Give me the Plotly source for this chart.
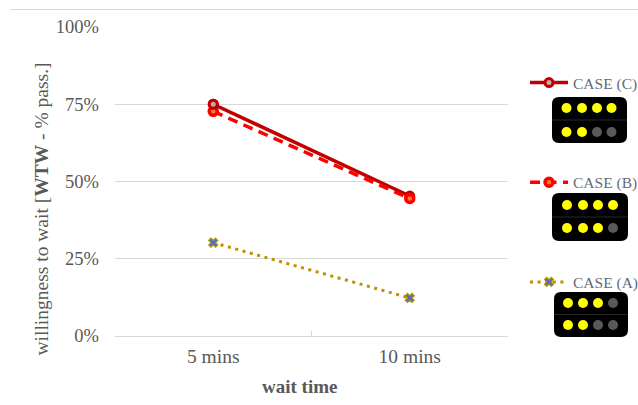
import plotly.graph_objects as go

W, H = 638, 405
L, R, T, B = 115, 508, 27, 336  # plot area, in window pixels

categories = ["5 mins", "10 mins"]
case_c = [75, 45.3]
case_b = [72.7, 44.5]
case_a = [30.2, 12.3]
y_ticks = [0, 25, 50, 75, 100]
y_labels = ["0%", "25%", "50%", "75%", "100%"]
# 1 = lit, 0 = unlit : top row, bottom row
lights_c = [[1, 1, 1, 1], [1, 1, 0, 0]]
lights_b = [[1, 1, 1, 1], [1, 1, 1, 0]]
lights_a = [[1, 1, 1, 0], [1, 1, 0, 0]]

GREY = "#595959"
FONT = "Liberation Serif"


def px(x):
    return (x - L) / (R - L)


def py(y):
    return (B - y) / (B - T)


marker_c = dict(symbol="circle", size=8, color="#C8A8A8", line=dict(color="#C00000", width=3))

fig = go.Figure()
fig.add_trace(go.Scatter(
    x=categories, y=case_c, name="CASE (C)", legendgroup="c", mode="lines+markers",
    line=dict(color="#C00000", width=3.5), marker=marker_c))
fig.add_trace(go.Scatter(
    x=categories, y=case_b, name="CASE (B)", legendgroup="b", mode="lines+markers",
    line=dict(color="#FF0000", width=3.5, dash="10px,6.5px"),
    marker=dict(symbol="circle", size=8, color="#ED7D31", line=dict(color="#FF0000", width=3.5))))
# The 5-min marker of case C lies over case B, the 10-min one under it.
fig.add_trace(go.Scatter(
    x=categories[:1], y=case_c[:1], legendgroup="c", showlegend=False, mode="markers", marker=marker_c))
fig.add_trace(go.Scatter(
    x=categories, y=case_a, name="CASE (A)", legendgroup="a", mode="lines+markers",
    line=dict(color="#BF9000", width=3, dash="3px,4.6px"),
    marker=dict(symbol="x", size=8, color="#4472C4", line=dict(color="#BF9000", width=1.2))))

shapes = [dict(type="line", xref="paper", yref="paper", x0=px(10), x1=px(640), y0=py(9.5), y1=py(9.5),
               line=dict(color="#D9D9D9", width=1))]


def panel(lights, x0, x1, y0, y1, xs, ys):
    r = 7
    a, b, c, d = px(x0), px(x1), py(y0), py(y1)
    rx, ry = r / (R - L), r / (B - T)
    path = (f"M {a+rx} {c} L {b-rx} {c} Q {b} {c} {b} {c-ry} L {b} {d+ry} Q {b} {d} {b-rx} {d} "
            f"L {a+rx} {d} Q {a} {d} {a} {d+ry} L {a} {c-ry} Q {a} {c} {a+rx} {c} Z")
    shapes.append(dict(type="path", path=path, xref="paper", yref="paper",
                       fillcolor="#000000", line=dict(width=0)))
    mid = (y0 + y1) / 2
    shapes.append(dict(type="line", xref="paper", yref="paper", x0=a, x1=b, y0=py(mid), y1=py(mid),
                       line=dict(color="#262626", width=1)))
    for row, yc in zip(lights, ys):
        for state, xc in zip(row, xs):
            shapes.append(dict(type="circle", xref="paper", yref="paper",
                               x0=px(xc - 5), x1=px(xc + 5), y0=py(yc - 5), y1=py(yc + 5),
                               fillcolor="#FFFF00" if state else "#595959", line=dict(width=0)))


panel(lights_c, 552, 627, 97, 143, [566.5, 582, 597, 611.5], [108, 132])
panel(lights_b, 552, 628, 193, 241, [567, 583, 598, 613], [205, 228])
panel(lights_a, 554, 628, 292, 337, [568, 583, 598, 613], [303, 325])

annotations = [
    dict(text="willingness to wait [<b>WTW</b> - % pass.]", textangle=-90, xref="paper", yref="paper",
         x=px(40.5), y=py(209), xanchor="center", yanchor="middle", showarrow=False,
         font=dict(family=FONT, size=19.5, color=GREY)),
    dict(text="<b>wait time</b>", xref="paper", yref="paper", x=px(299), y=py(386),
         xanchor="center", yanchor="middle", showarrow=False,
         font=dict(family=FONT, size=19, color=GREY)),
]

fig.update_layout(
    width=W, height=H, autosize=False, paper_bgcolor="white", plot_bgcolor="white",
    margin=dict(l=L, r=W - R, t=T, b=H - B, pad=0, autoexpand=False),
    font=dict(family=FONT, color=GREY),
    shapes=shapes, annotations=annotations,
    legend=dict(x=px(525), y=py(66), xanchor="left", yanchor="top", bgcolor="rgba(0,0,0,0)",
                itemwidth=38, tracegroupgap=76.5, traceorder="grouped", itemclick=False,
                font=dict(family=FONT, size=15.5, color="#626B76")),
    xaxis=dict(range=[-0.5, 1.5], type="category", tickson="boundaries", ticks="inside", ticklen=5,
               tickcolor="#D9D9D9", showline=True, linecolor="#D9D9D9", showgrid=False, zeroline=False,
               ticklabelstandoff=3, tickfont=dict(family=FONT, size=19.5, color=GREY)),
    yaxis=dict(range=[0, 100], tickvals=y_ticks, ticktext=y_labels, gridcolor="#D9D9D9", gridwidth=1,
               zeroline=False, showline=False, ticks="", ticklen=0, ticklabelstandoff=15,
               tickfont=dict(family=FONT, size=18.5, color=GREY)),
)
fig.write_html("out.html", config={"displayModeBar": False},
               post_script="document.body.style.margin='0';")
